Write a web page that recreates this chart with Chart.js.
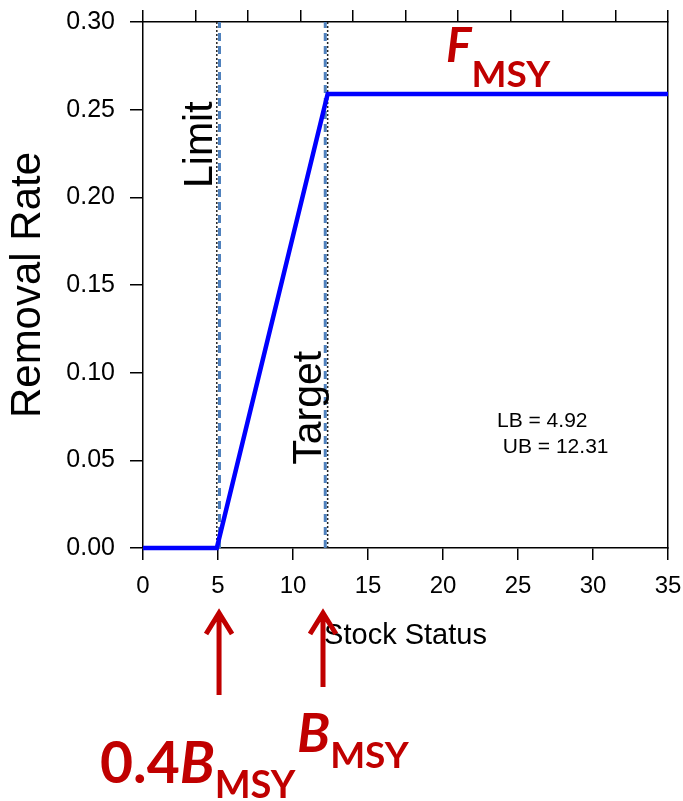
<!DOCTYPE html>
<html>
<head>
<meta charset="utf-8">
<title>Harvest control rule</title>
<script src="https://cdn.jsdelivr.net/npm/chart.js@4.4.1/dist/chart.umd.min.js"></script>
<style>
  html, body { margin: 0; padding: 0; background: #fff; }
  canvas { display: block; }
</style>
</head>
<body>
<canvas id="hcr" width="683" height="801"></canvas>
<script>
// ── Data ──
const hcrStatus = [0, 4.92, 12.31, 35];
const hcrRate = [0, 0, 0.259, 0.259];
const boundStatus = [4.92, 12.31];   // LB / UB  (black dotted)
const refStatus = [5.1, 12.15];      // 0.4 BMSY / BMSY (blue dashed)
const arrowStatus = [5.07, 12.0];
const statusRange = [0, 35];
const rateRange = [0, 0.3];
const statusStep = 5, rateStep = 0.05, topStep = 0.1;
const boundText = ['LB = 4.92', ' UB = 12.31'];

const RED = '#c00000';
const SANS = '"Liberation Sans", Arial, sans-serif';
const BOLD = 'Lato, "Open Sans", sans-serif';

const axisLine = { color: '#000', width: 1.5 };
const tickGrid = (len) => ({ drawOnChartArea: false, tickLength: len, color: '#000', lineWidth: 1.5 });

// pin the plot box: no extra room for overhanging tick labels
const fixSize = (w, h) => s => {
  if (w != null) s.width = w;
  if (h != null) s.height = h;
  s.paddingLeft = s.paddingRight = s.paddingTop = s.paddingBottom = 0;
};

const vline = (x, color, dash, width) => ({
  data: [{ x, y: rateRange[0] }, { x, y: rateRange[1] }],
  borderColor: color, borderWidth: width, borderDash: dash,
  pointRadius: 0, clip: false
});

// ── Text helpers ──
function vText(ctx, text, bx, cy) {
  ctx.save();
  ctx.translate(bx, cy);
  ctx.rotate(-Math.PI / 2);
  ctx.textAlign = 'center';
  ctx.textBaseline = 'alphabetic';
  ctx.fillText(text, 0, 0);
  ctx.restore();
}

// parts: [text, font, baseline offset]
function richText(ctx, x, y, parts) {
  ctx.textAlign = 'left';
  ctx.textBaseline = 'alphabetic';
  parts.forEach(([t, font, dy]) => {
    ctx.font = font;
    ctx.fillText(t, x, y + dy);
    x += ctx.measureText(t).width;
  });
}

function arrow(ctx, x, tipY, baseY) {
  ctx.beginPath();
  ctx.moveTo(x, baseY); ctx.lineTo(x, tipY + 2);
  ctx.moveTo(x - 13, tipY + 21); ctx.lineTo(x, tipY); ctx.lineTo(x + 13, tipY + 21);
  ctx.stroke();
}

// ── Annotations ──
const annotations = {
  id: 'annotations',
  afterDraw(chart) {
    const { ctx, scales: { x, y } } = chart;
    ctx.save();
    ctx.fillStyle = '#000';
    ctx.font = '41px ' + SANS;
    vText(ctx, 'Limit', x.getPixelForValue(boundStatus[0]) - 5, y.getPixelForValue(0.23));
    vText(ctx, 'Target', x.getPixelForValue(boundStatus[1]) - 7, y.getPixelForValue(0.08));

    ctx.font = '21px ' + SANS;
    ctx.textAlign = 'left';
    boundText.forEach((t, i) => ctx.fillText(t, x.getPixelForValue(23.6), y.getPixelForValue(0.069) + i * 26));

    ctx.fillStyle = RED;
    richText(ctx, x.getPixelForValue(20.2), y.getPixelForValue(0.277), [
      ['F', 'italic bold 48px ' + BOLD, 0],
      ['MSY', 'bold 37px ' + BOLD, 25]
    ]);

    // arrows + reference point labels below the axis
    ctx.strokeStyle = RED;
    ctx.lineWidth = 5;
    ctx.lineJoin = 'miter';
    const a1 = x.getPixelForValue(arrowStatus[0]);
    const a2 = x.getPixelForValue(arrowStatus[1]);
    arrow(ctx, a1, 613, 695);
    arrow(ctx, a2, 613, 687);

    richText(ctx, a1 - 119, 783, [
      ['0.4', 'bold 57px ' + BOLD, 0],
      ['B', 'italic bold 57px ' + BOLD, 0],
      ['MSY', 'bold 38px ' + BOLD, 15]
    ]);
    richText(ctx, a2 - 26, 752, [
      ['B', 'italic bold 54px ' + BOLD, 0],
      ['MSY', 'bold 37px ' + BOLD, 16]
    ]);
    ctx.restore();
  }
};

new Chart(document.getElementById('hcr'), {
  type: 'line',
  data: {
    datasets: [
      {
        data: hcrStatus.map((s, i) => ({ x: s, y: hcrRate[i] })),
        borderColor: '#0000ff', borderWidth: 4.5, pointRadius: 0, clip: false
      },
      ...boundStatus.map(s => vline(s, '#222', [2, 2], 1.5)),
      ...refStatus.map(s => vline(s, '#4f81bd', [8, 5], 3))
    ]
  },
  options: {
    responsive: false, animation: false, devicePixelRatio: 1,
    layout: { padding: { top: 0, left: 0, right: 15, bottom: 143 } },
    plugins: { legend: { display: false }, tooltip: { enabled: false } },
    scales: {
      x: {
        type: 'linear', position: 'bottom', min: statusRange[0], max: statusRange[1],
        ticks: { stepSize: statusStep, color: '#000', padding: 12, font: { family: SANS, size: 24 } },
        grid: tickGrid(12), border: axisLine,
        title: { display: true, text: 'Stock Status', color: '#000', padding: { top: 0, bottom: 5 }, font: { family: SANS, size: 29 } },
        afterFit: fixSize(null, 110)
      },
      top: {
        type: 'linear', axis: 'x', position: 'top', min: 0, max: 1,
        ticks: { stepSize: topStep, display: false },
        grid: tickGrid(12), border: axisLine,
        afterFit: fixSize(null, 22)
      },
      y: {
        type: 'linear', position: 'left', min: rateRange[0], max: rateRange[1],
        ticks: { stepSize: rateStep, color: '#000', padding: 15, font: { family: SANS, size: 25 }, callback: v => v.toFixed(2) },
        grid: tickGrid(13), border: axisLine,
        title: { display: true, text: 'Removal Rate', color: '#000', padding: { top: 3, bottom: 0 }, font: { family: SANS, size: 42 } },
        afterFit: fixSize(143, null)
      },
      right: {
        type: 'linear', axis: 'y', position: 'right', min: rateRange[0], max: rateRange[1],
        ticks: { display: false }, grid: { display: false }, border: axisLine,
        afterFit: fixSize(0, null)
      }
    }
  },
  plugins: [annotations]
});
</script>
</body>
</html>
